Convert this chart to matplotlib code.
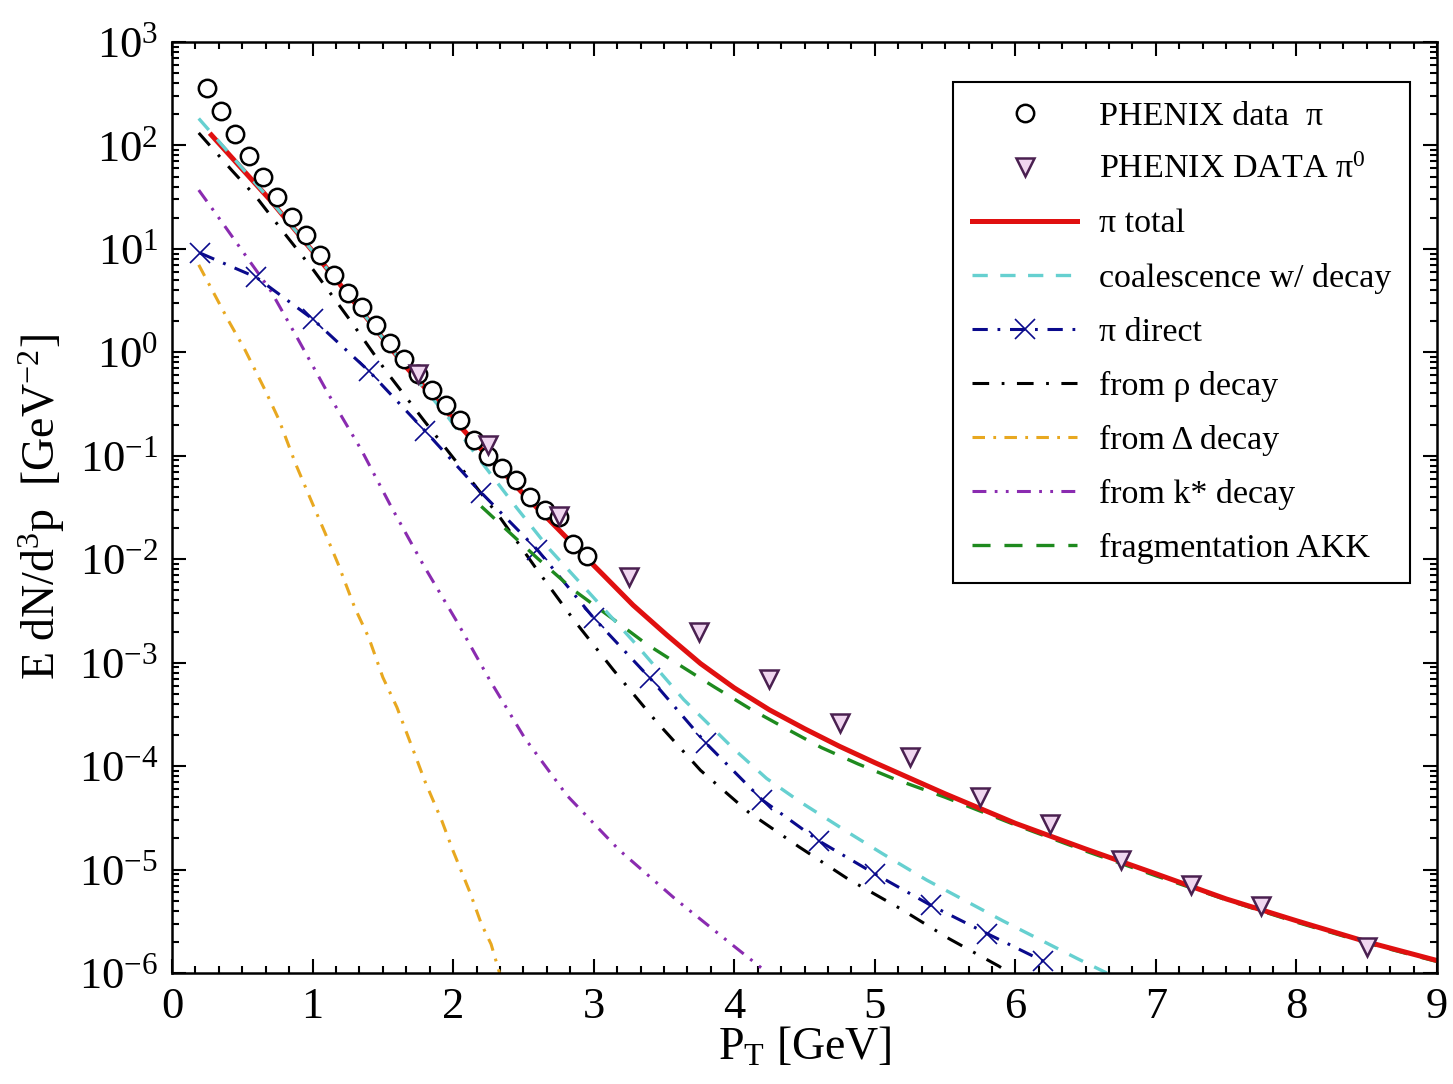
import matplotlib
matplotlib.use('Agg')
import matplotlib.pyplot as plt
from matplotlib.ticker import AutoMinorLocator, LogLocator, NullFormatter
from matplotlib.legend_handler import HandlerLine2D

plt.rcParams['font.family'] = ['Liberation Serif', 'DejaVu Serif']
plt.rcParams['mathtext.fontset'] = 'custom'
plt.rcParams['mathtext.rm'] = 'Liberation Serif'
plt.rcParams['mathtext.it'] = 'Liberation Serif:italic'
plt.rcParams['mathtext.bf'] = 'Liberation Serif:bold'
plt.rcParams['lines.scale_dashes'] = False

# PHENIX charged pion data
pt_pi = [0.25, 0.35, 0.45, 0.55, 0.65, 0.75, 0.85, 0.95, 1.05, 1.15, 1.25, 1.35, 1.45, 1.55,
         1.65, 1.75, 1.85, 1.95, 2.05, 2.15, 2.25, 2.35, 2.45, 2.55, 2.65, 2.75, 2.85, 2.95]
y_pi = [356, 217, 128, 79, 50, 32, 20.4, 13.6, 8.7, 5.6, 3.76, 2.75, 1.83, 1.22,
        0.87, 0.62, 0.43, 0.31, 0.22, 0.142, 0.10, 0.076, 0.058, 0.040, 0.030, 0.0255, 0.014, 0.0107]

# PHENIX pi0 data
pt_pi0 = [1.75, 2.25, 2.75, 3.25, 3.75, 4.25, 4.75, 5.25, 5.75, 6.25, 6.75, 7.25, 7.75, 8.5]
y_pi0 = [0.62, 0.126, 0.026, 6.8e-3, 2.0e-3, 6.9e-4, 2.6e-4, 1.22e-4, 5.0e-5, 2.75e-5,
         1.23e-5, 7.1e-6, 4.4e-6, 1.8e-6]

# pi total
pt_tot = [0.28, 0.7, 1.17, 1.65, 2.12, 2.52, 2.74, 2.95, 3.07, 3.28, 3.52, 3.76, 4.0, 4.25,
          4.5, 4.75, 5.0, 5.5, 6.0, 6.5, 7.0, 7.5, 8.0, 8.5, 9.0]
y_tot = [126, 29.5, 5.0, 0.76, 0.151, 0.040, 0.020, 0.0102, 7.0e-3, 3.6e-3, 1.85e-3, 9.8e-4,
         5.7e-4, 3.5e-4, 2.3e-4, 1.55e-4, 1.08e-4, 5.4e-5, 2.8e-5, 1.58e-5, 9.1e-6, 5.2e-6,
         3.2e-6, 2.0e-6, 1.32e-6]

# coalescence with decay
pt_coal = [0.19, 0.7, 1.17, 1.65, 1.95, 2.19, 2.45, 2.69, 2.93, 3.28, 3.64, 4.0, 4.23, 4.47,
           4.83, 5.06, 5.37, 5.91, 6.44, 6.65]
y_coal = [182, 29.5, 5.0, 0.76, 0.25, 0.091, 0.0316, 0.0123, 5.4e-3, 1.62e-3, 4.4e-4, 1.45e-4,
          7.6e-5, 4.5e-5, 2.2e-5, 1.41e-5, 7.9e-6, 3.2e-6, 1.38e-6, 1.0e-6]

# pi direct
pt_dir = [0.2, 0.6, 1.0, 1.4, 1.8, 2.2, 2.6, 3.0, 3.4, 3.8, 4.2, 4.6, 5.0, 5.4, 5.8, 6.2]
y_dir = [9.1, 5.3, 2.1, 0.66, 0.174, 0.044, 0.0123, 2.7e-3, 7.1e-4, 1.66e-4, 4.7e-5, 1.9e-5,
         9.1e-6, 4.5e-6, 2.4e-6, 1.3e-6]

# from rho decay
pt_rho = [0.19, 0.425, 0.6, 0.8, 1.006, 1.267, 1.516, 1.79, 2.05, 2.33, 2.6, 2.86, 3.14, 3.44,
          3.76, 4.1, 4.46, 4.81, 5.18, 5.53, 5.88, 5.96]
y_rho = [132, 57.5, 31.6, 14.1, 6.24, 2.04, 0.676, 0.221, 0.0785, 0.0257, 7.8e-3, 2.57e-3, 8.5e-4,
         2.75e-4, 9.1e-5, 3.6e-5, 1.66e-5, 8.1e-6, 4.2e-6, 2.14e-6, 1.17e-6, 1.0e-6]

# from Delta decay
pt_del = [0.19, 0.40, 0.52, 0.66, 0.76, 0.88, 0.97, 1.09, 1.18, 1.30, 1.40, 1.50, 1.60, 1.72,
          1.80, 1.92, 2.00, 2.12, 2.20, 2.27, 2.33]
y_del = [7.0, 2.04, 1.05, 0.437, 0.224, 0.083, 0.0427, 0.0178, 9.1e-3, 3.4e-3, 1.74e-3, 7.2e-4,
         3.7e-4, 1.38e-4, 7.1e-5, 2.95e-5, 1.51e-5, 6.0e-6, 3.0e-6, 1.9e-6, 1.0e-6]

# from k* decay
pt_ks = [0.19, 0.354, 0.555, 0.7, 0.887, 1.11, 1.35, 1.56, 1.79, 2.03, 2.26, 2.51, 2.81, 3.18,
         3.58, 3.98, 4.2]
y_ks = [37, 18.2, 7.5, 3.98, 1.41, 0.40, 0.112, 0.032, 8.7e-3, 2.45e-3, 6.8e-4, 1.86e-4, 5.2e-5,
        1.55e-5, 5.2e-6, 1.9e-6, 1.1e-6]

# fragmentation AKK
pt_frag = [2.2, 2.6, 2.86, 3.12, 3.37, 3.62, 3.86, 4.11, 4.37, 4.62, 4.88, 5.13, 5.5, 6.0, 6.5,
           7.0, 7.5, 8.0, 8.5, 9.0]
y_frag = [0.0324, 0.0102, 5.0e-3, 2.75e-3, 1.53e-3, 9.3e-4, 5.8e-4, 3.6e-4, 2.3e-4, 1.51e-4,
          1.05e-4, 7.6e-5, 5.0e-5, 2.7e-5, 1.51e-5, 8.7e-6, 5.1e-6, 3.1e-6, 1.95e-6, 1.29e-6]

fig = plt.figure(figsize=(14.53, 10.84), dpi=100)
ax = fig.add_axes([0.1184, 0.1024, 0.8706, 0.8589])

ax.plot(pt_ks, y_ks, color='#8a2bb0', lw=2.2, dashes=(10, 6, 2, 6, 2, 6), label='from k* decay')
ax.plot(pt_del, y_del, color='#e8a820', lw=2.2, dashes=(9, 6, 2, 6), label='from Δ decay')
ax.plot(pt_rho, y_rho, color='black', lw=2.2, dashes=(12, 9, 2, 9), label='from ρ decay')
ax.plot(pt_dir, y_dir, color='#0a0a8c', lw=2.2, dashes=(11, 7, 2, 7), marker='x', ms=14,
        mew=1.2, label='π direct')
ax.plot(pt_frag, y_frag, color='#1e8a1e', lw=2.4, dashes=(13, 10), label='fragmentation AKK')
ax.plot(pt_tot, y_tot, color='#e01010', lw=3.6, label='π total')
ax.plot(pt_coal, y_coal, color='#66d0d0', lw=2.4, dashes=(11, 9), label='coalescence w/ decay')
ax.plot(pt_pi, y_pi, ls='none', marker='o', ms=12.5, mfc='white', mec='black', mew=1.8,
        label='PHENIX data  π')
ax.plot(pt_pi0, y_pi0, ls='none', marker='v', ms=12.5, mfc='#f0d6f0', mec='#4a2050', mew=1.8,
        label='PHENIX DATA π$^{0}$')

ax.set_yscale('log')
ax.set_xlim(0, 9)
ax.set_ylim(1e-6, 1e3)
ax.xaxis.set_minor_locator(AutoMinorLocator(6))
ax.yaxis.set_major_locator(LogLocator(base=10, numticks=12))
ax.yaxis.set_minor_locator(LogLocator(base=10, subs=range(2, 10), numticks=12))
ax.yaxis.set_minor_formatter(NullFormatter())
ax.tick_params(which='both', direction='in', top=True, right=True, width=1.5, labelsize=32)
ax.tick_params(which='major', length=10, pad=10)
ax.tick_params(which='minor', length=5)
for s in ax.spines.values():
    s.set_linewidth(1.8)

ax.set_xlabel('P$_\\mathrm{T}$ [GeV]', fontsize=33, labelpad=0)
ax.set_ylabel('E dN/d$^{3}$p  [GeV$^{-2}$]', fontsize=33, labelpad=8)

handles, labels = ax.get_legend_handles_labels()
order = ['PHENIX data  π', 'PHENIX DATA π$^{0}$', 'π total', 'coalescence w/ decay', 'π direct',
         'from ρ decay', 'from Δ decay', 'from k* decay', 'fragmentation AKK']
hmap = dict(zip(labels, handles))
hs = [hmap[l] for l in order]
one = HandlerLine2D(numpoints=1)
leg = ax.legend(hs, order, loc='upper right', bbox_to_anchor=(0.979, 0.957), fontsize=24.5,
                frameon=True, fancybox=False, edgecolor='black', framealpha=1,
                handlelength=3.1, handletextpad=0.65, labelspacing=0.68, borderpad=0.55,
                borderaxespad=0, handler_map={hmap[order[0]]: one, hmap[order[1]]: one})
leg.get_frame().set_linewidth(1.5)

fig.savefig('out.png', dpi=100)
